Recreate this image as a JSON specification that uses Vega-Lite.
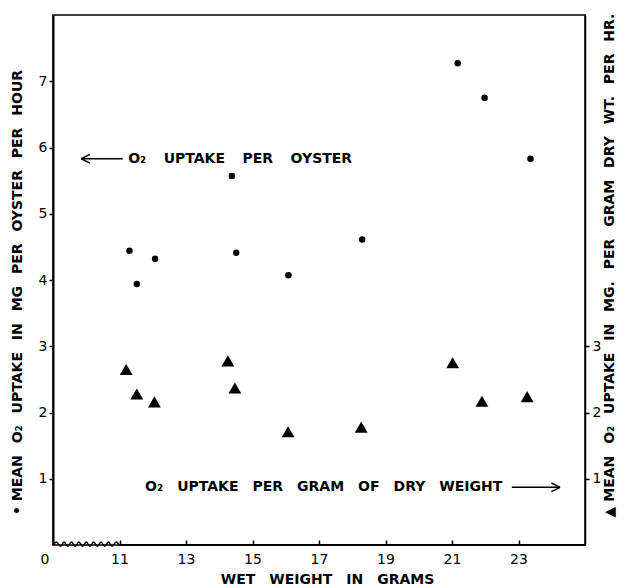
{
  "$schema": "https://vega.github.io/schema/vega-lite/v6.json",
  "autosize": "none",
  "padding": {"left": 53, "top": 15, "right": 42, "bottom": 43},
  "width": 532,
  "height": 530,
  "background": "white",
  "config": {
    "view": {"stroke": "black", "strokeWidth": 1.5},
    "font": "DejaVu Sans",
    "axis": {
      "grid": false,
      "domainColor": "black",
      "tickColor": "black",
      "labelColor": "black",
      "titleColor": "black",
      "labelFont": "DejaVu Sans",
      "titleFont": "DejaVu Sans",
      "labelFontSize": 14,
      "titleFontSize": 14,
      "titleFontWeight": "bold"
    }
  },
  "datasets": {
    "oyster": [
      {"wet": 11.3, "per_oyster": 4.44},
      {"wet": 11.52, "per_oyster": 3.94},
      {"wet": 12.07, "per_oyster": 4.32},
      {"wet": 14.38, "per_oyster": 5.57},
      {"wet": 14.51, "per_oyster": 4.41},
      {"wet": 16.08, "per_oyster": 4.07},
      {"wet": 18.3, "per_oyster": 4.61},
      {"wet": 21.17, "per_oyster": 7.27},
      {"wet": 21.98, "per_oyster": 6.75},
      {"wet": 23.36, "per_oyster": 5.83}
    ],
    "gram": [
      {"wet": 11.2, "per_gram": 2.65},
      {"wet": 11.52, "per_gram": 2.28},
      {"wet": 12.05, "per_gram": 2.16},
      {"wet": 14.26, "per_gram": 2.78},
      {"wet": 14.47, "per_gram": 2.37},
      {"wet": 16.07, "per_gram": 1.71},
      {"wet": 18.27, "per_gram": 1.78},
      {"wet": 21.02, "per_gram": 2.75},
      {"wet": 21.9, "per_gram": 2.17},
      {"wet": 23.26, "per_gram": 2.24}
    ],
    "wave": [
      {"x": 9.0, "y": 0.0},
      {"x": 9.111, "y": 0.045},
      {"x": 9.222, "y": -0.02},
      {"x": 9.333, "y": 0.045},
      {"x": 9.444, "y": -0.02},
      {"x": 9.556, "y": 0.045},
      {"x": 9.667, "y": -0.02},
      {"x": 9.778, "y": 0.045},
      {"x": 9.889, "y": -0.02},
      {"x": 10.0, "y": 0.045},
      {"x": 10.111, "y": -0.02},
      {"x": 10.222, "y": 0.045},
      {"x": 10.333, "y": -0.02},
      {"x": 10.444, "y": 0.045},
      {"x": 10.556, "y": -0.02},
      {"x": 10.667, "y": 0.045},
      {"x": 10.778, "y": -0.02},
      {"x": 10.889, "y": 0.045},
      {"x": 11.0, "y": 0.0}
    ],
    "notes": [
      {"x": 11.26, "y": 5.83, "text": "O₂\u2003\u2005UPTAKE\u2003\u2005PER\u2003\u2005OYSTER"},
      {"x": 11.77, "y": 0.87, "text": "O₂\u2003UPTAKE\u2003PER\u2003GRAM\u2003OF\u2003DRY\u2003WEIGHT"}
    ],
    "arrows": [
      {"x1": 9.85, "x2": 11.1, "y": 5.83, "tip": 9.85, "dir": "left"},
      {"x1": 22.8, "x2": 24.25, "y": 0.87, "tip": 24.25, "dir": "right"}
    ],
    "baseline": [
      {"x1": 11, "x2": 25, "y": 0}
    ]
  },
  "layer": [
    {
      "data": {"name": "oyster"},
      "mark": {"type": "point", "filled": true, "shape": "circle", "size": 42, "color": "black", "opacity": 1},
      "encoding": {
        "x": {
          "field": "wet", "type": "quantitative",
          "scale": {"domain": [9, 25], "nice": false, "zero": false},
          "axis": {
            "title": "WET\u2003WEIGHT\u2003IN\u2003GRAMS",
            "titlePadding": 6,
            "titleX": 274,
            "values": [9, 11, 13, 15, 17, 19, 21, 23],
            "labelExpr": "datum.value == 9 ? '0' : datum.label",
            "domain": false,
            "tickSize": -5,
            "tickWidth": 1.5,
            "tickOpacity": {"condition": {"test": "datum.value == 9", "value": 0}, "value": 1},
            "labelOffset": {"condition": {"test": "datum.value == 9", "value": -13}, "value": 0},
            "labelPadding": 12
          }
        },
        "y": {
          "field": "per_oyster", "type": "quantitative",
          "scale": {"domain": [0, 8], "nice": false},
          "axis": {
            "orient": "left",
            "title": "• MEAN \u2002O₂ \u2002UPTAKE \u2002IN \u2002MG \u2002PER \u2002OYSTER \u2002PER \u2002HOUR",
            "values": [1, 2, 3, 4, 5, 6, 7],
            "tickSize": 4,
            "tickWidth": 1.5,
            "labelPadding": 2,
            "domainWidth": 2,
            "titlePadding": 14,
            "titleY": 277
          }
        }
      }
    },
    {
      "data": {"name": "gram"},
      "mark": {"type": "point", "filled": true, "shape": "triangle-up", "size": 165, "color": "black", "opacity": 1},
      "encoding": {
        "x": {"field": "wet", "type": "quantitative"},
        "y": {
          "field": "per_gram", "type": "quantitative",
          "scale": {"domain": [0, 8], "nice": false},
          "axis": {
            "orient": "right",
            "title": "▲ MEAN \u2002O₂ \u2002UPTAKE \u2002IN \u2002MG. \u2002PER \u2002GRAM \u2002DRY \u2002WT. \u2002PER \u2002HR.",
            "titleAngle": 270,
            "values": [1, 2, 3],
            "tickSize": 4,
            "tickWidth": 1.5,
            "labelPadding": 3,
            "domainWidth": 1.5,
            "titlePadding": 16,
            "titleY": 250
          }
        }
      }
    },
    {
      "data": {"name": "wave"},
      "mark": {"type": "line", "interpolate": "cardinal", "color": "black", "strokeWidth": 1.3, "clip": false},
      "encoding": {
        "x": {"field": "x", "type": "quantitative"},
        "y": {"field": "y", "type": "quantitative", "scale": {"domain": [0, 8], "nice": false}, "axis": null}
      }
    },
    {
      "data": {"name": "baseline"},
      "mark": {"type": "rule", "color": "black", "strokeWidth": 2},
      "encoding": {
        "x": {"field": "x1", "type": "quantitative"},
        "x2": {"field": "x2"},
        "y": {"field": "y", "type": "quantitative", "scale": {"domain": [0, 8], "nice": false}, "axis": null}
      }
    },
    {
      "data": {"name": "notes"},
      "mark": {"type": "text", "align": "left", "baseline": "middle", "fontSize": 14, "fontWeight": "bold", "color": "black", "font": "DejaVu Sans"},
      "encoding": {
        "x": {"field": "x", "type": "quantitative"},
        "y": {"field": "y", "type": "quantitative", "scale": {"domain": [0, 8], "nice": false}, "axis": null},
        "text": {"field": "text"}
      }
    },
    {
      "data": {"name": "arrows"},
      "mark": {"type": "rule", "color": "black", "strokeWidth": 1.5},
      "encoding": {
        "x": {"field": "x1", "type": "quantitative"},
        "x2": {"field": "x2"},
        "y": {"field": "y", "type": "quantitative", "scale": {"domain": [0, 8], "nice": false}, "axis": null}
      }
    },
    {
      "data": {"name": "arrows"},
      "mark": {"type": "point", "filled": false, "color": "black", "strokeWidth": 1.5, "size": 300, "opacity": 1},
      "encoding": {
        "x": {"field": "tip", "type": "quantitative"},
        "y": {"field": "y", "type": "quantitative", "scale": {"domain": [0, 8], "nice": false}, "axis": null},
        "shape": {
          "field": "dir", "type": "nominal",
          "scale": {"domain": ["left", "right"], "range": ["M0,0L1,-0.5M0,0L1,0.5", "M0,0L-1,-0.5M0,0L-1,0.5"]},
          "legend": null
        }
      }
    }
  ],
  "resolve": {"scale": {"y": "independent"}}
}
